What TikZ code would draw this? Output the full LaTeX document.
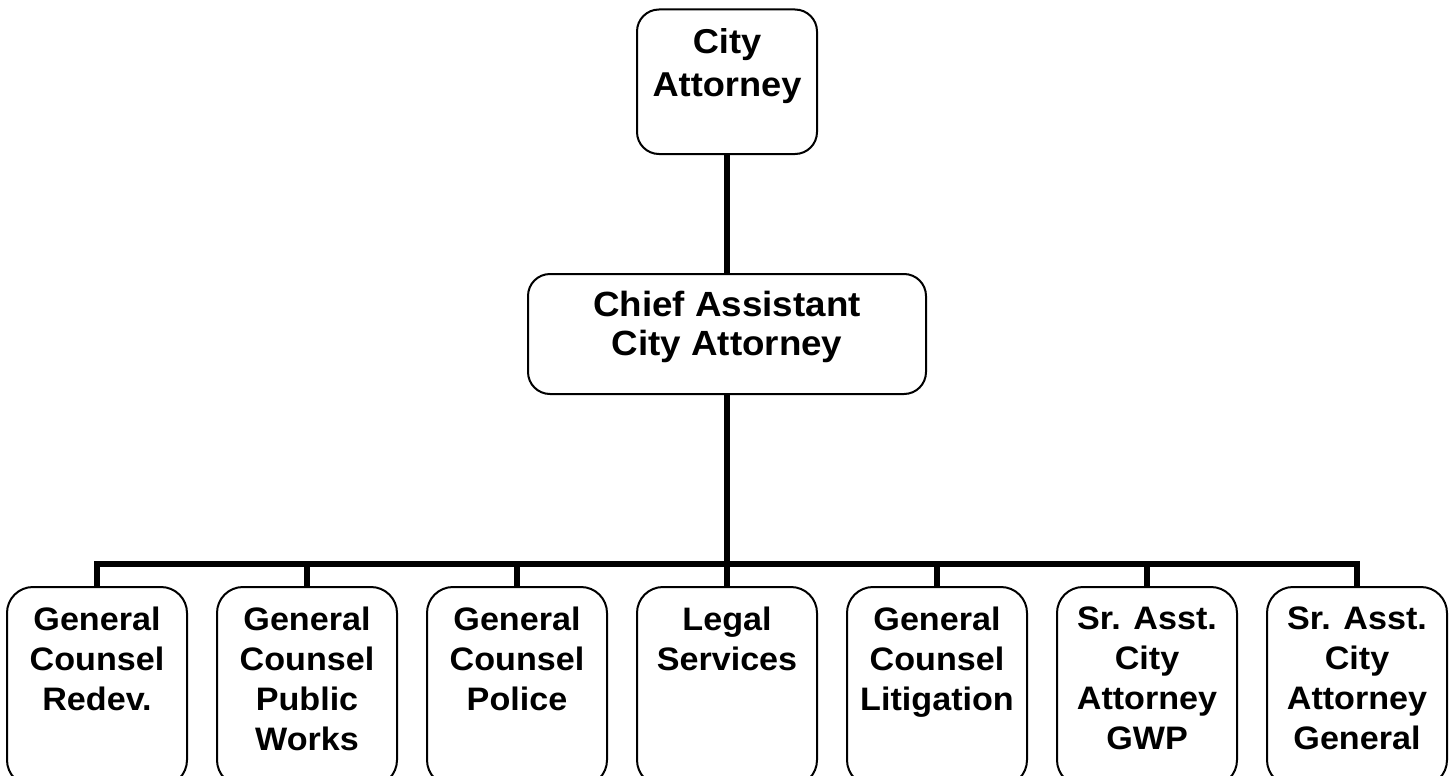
\documentclass[tikz,border=0pt]{standalone}
\usepackage{fontspec}
\setmainfont{Liberation Sans}
\newfontfamily\boxfont[FakeStretch=1.05]{Liberation Sans}
\begin{document}
\begin{tikzpicture}[x=1pt,y=-1pt,
  box/.style={draw, line width=2pt, rounded corners=#1, inner sep=0pt, outer sep=0pt, fill=white},
  lowbox/.style={box=26pt, minimum width=180pt, minimum height=199pt},
  txt/.style={anchor=north, inner sep=0pt, align=center},
  lowtxt/.style={txt, font=\boxfont\fontsize{32.5}{40}\selectfont\bfseries},
  conn/.style={line width=5.5pt}]
\useasboundingbox[fill=white] (0,0) rectangle (1453,776);

% top
\node[box=22pt, minimum width=180pt, minimum height=144.5pt] (ca) at (727,81.75) {};
\node[txt, font=\boxfont\fontsize{34.5}{43.5}\selectfont\bfseries] (cat) at (727,28) {City\\Attorney};

% chief
\node[box=22pt, minimum width=398pt, minimum height=120pt] (chief) at (727,334) {};
\node[txt, font=\boxfont\fontsize{35}{38.7}\selectfont\bfseries] (chieft) at (727,291) {Chief Assistant\\City Attorney};

% bottom boxes
\foreach \i/\t in {1/{General\\Counsel\\Redev.},
                   2/{General\\Counsel\\Public\\Works},
                   3/{General\\Counsel\\Police},
                   4/{Legal\\Services},
                   5/{General\\Counsel\\Litigation},
                   6/{Sr. Asst.\\City\\Attorney\\GWP},
                   7/{Sr. Asst.\\City\\Attorney\\General}}{
  \node[lowbox] (b\i) at ({97+210*(\i-1)},686.5) {};
  \node[lowtxt] (t\i) at ({97+210*(\i-1)},607) {\t};
}

\coordinate (bus) at (727,564);

% connectors
\draw[conn] (ca.south) -- (chief.north);
\draw[conn] (chief.south) -- (bus);
\foreach \i in {1,...,7}{
  \draw[conn] (bus) -| (b\i.north);
}
\end{tikzpicture}
\end{document}
